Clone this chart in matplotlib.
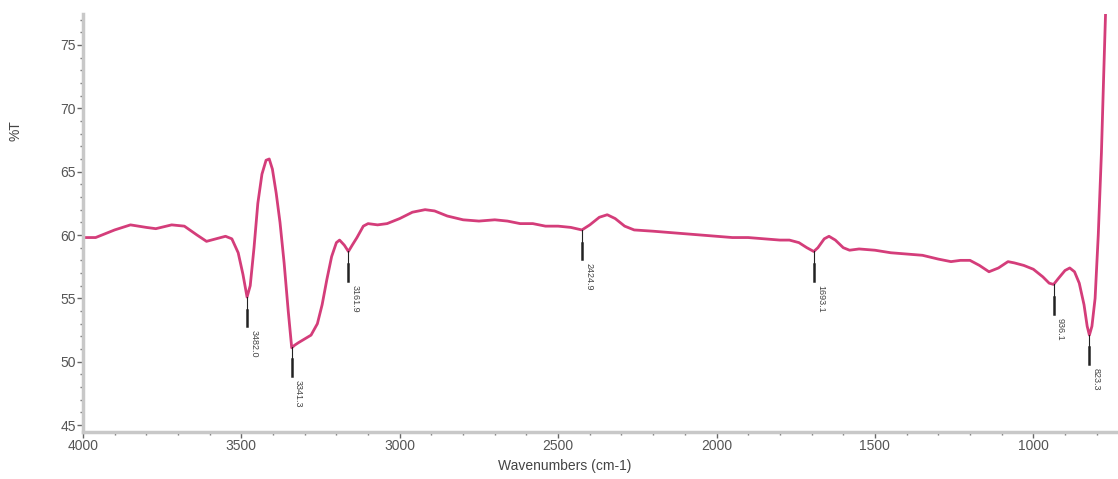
import numpy as np
import matplotlib
matplotlib.use("Agg")
import matplotlib.pyplot as plt
from matplotlib.ticker import MultipleLocator

plt.rcParams['font.family'] = ['Liberation Sans Narrow', 'Liberation Sans', 'DejaVu Sans']

# spectrum (wavenumber, %T)
wavenumber = [4000, 3960, 3900, 3850, 3800, 3770, 3720, 3680, 3640, 3610,
              3580, 3550, 3530, 3510, 3495, 3482, 3472, 3460, 3448, 3435,
              3422, 3412, 3402, 3390, 3378, 3365, 3352, 3341, 3332, 3320,
              3300, 3280, 3260, 3245, 3230, 3215, 3200, 3190, 3175, 3162,
              3150, 3135, 3115, 3100, 3070, 3040, 3000, 2960, 2920, 2890,
              2850, 2800, 2750, 2700, 2660, 2620, 2580, 2540, 2500, 2460,
              2425, 2400, 2370, 2345, 2320, 2290, 2260, 2200, 2150, 2100,
              2050, 2000, 1950, 1900, 1850, 1800, 1770, 1740, 1715, 1693,
              1680, 1660, 1645, 1625, 1600, 1580, 1550, 1500, 1450, 1400,
              1350, 1300, 1260, 1230, 1200, 1170, 1140, 1110, 1080, 1060,
              1030, 1000, 970, 950, 936, 920, 900, 885, 870, 855,
              840, 830, 823, 815, 805, 795, 785, 778, 772]
transmittance = [59.8, 59.8, 60.4, 60.8, 60.6, 60.5, 60.8, 60.7, 60.0, 59.5,
                 59.7, 59.9, 59.7, 58.6, 56.9, 55.1, 56.0, 59.0, 62.5, 64.8,
                 65.9, 66.0, 65.2, 63.3, 61.0, 57.8, 54.0, 51.1, 51.3, 51.5,
                 51.8, 52.1, 53.0, 54.5, 56.5, 58.3, 59.4, 59.6, 59.2, 58.7,
                 59.2, 59.8, 60.7, 60.9, 60.8, 60.9, 61.3, 61.8, 62.0, 61.9,
                 61.5, 61.2, 61.1, 61.2, 61.1, 60.9, 60.9, 60.7, 60.7, 60.6,
                 60.4, 60.8, 61.4, 61.6, 61.3, 60.7, 60.4, 60.3, 60.2, 60.1,
                 60.0, 59.9, 59.8, 59.8, 59.7, 59.6, 59.6, 59.4, 59.0, 58.7,
                 59.0, 59.7, 59.9, 59.6, 59.0, 58.8, 58.9, 58.8, 58.6, 58.5,
                 58.4, 58.1, 57.9, 58.0, 58.0, 57.6, 57.1, 57.4, 57.9, 57.8,
                 57.6, 57.3, 56.7, 56.2, 56.1, 56.6, 57.2, 57.4, 57.1, 56.2,
                 54.5, 52.8, 52.1, 52.8, 55.0, 60.0, 66.5, 72.5, 77.5]

peak_pos = [3482.0, 3341.3, 3161.9, 2424.9, 1693.1, 936.1, 823.3]
peak_text = ["3482.0", "3341.3", "3161.9", "2424.9", "1693.1", "936.1", "823.3"]

fig = plt.figure(figsize=(11.18, 4.79), dpi=100)
ax = fig.add_axes([0.0742, 0.098, 0.926, 0.873])

ax.plot(wavenumber, transmittance, color="#d43d7a", lw=2.0, solid_joinstyle="round")

# peak markers
wn_asc = np.array(wavenumber[::-1])
tr_asc = np.array(transmittance[::-1])
for p, t in zip(peak_pos, peak_text):
    y = np.interp(p, wn_asc, tr_asc)
    ax.plot([p, p], [y, y - 1.0], color="#222222", lw=0.8)
    ax.plot([p, p], [y - 1.0, y - 2.3], color="#222222", lw=1.8)
    ax.annotate(t, (p, y - 2.3), xytext=(5, -3), textcoords="offset points",
                rotation=270, fontsize=6.5, color="#444444", ha="center", va="top")

ax.set_xlim(4000, 732)
ax.set_ylim(44.45, 77.45)
ax.xaxis.set_major_locator(MultipleLocator(500))
ax.xaxis.set_minor_locator(MultipleLocator(100))
ax.yaxis.set_major_locator(MultipleLocator(5))
ax.yaxis.set_minor_locator(MultipleLocator(1))

for s in ["top", "right"]:
    ax.spines[s].set_visible(False)
for s in ["left", "bottom"]:
    ax.spines[s].set_color("#c8c8c8")
    ax.spines[s].set_linewidth(2.5)

ax.tick_params(which="major", length=4, width=1, color="#666666",
               labelsize=10, labelcolor="#555555", pad=1)
ax.tick_params(which="minor", length=2, width=1, color="#777777")

fig.text(0.5055, 0.027, "Wavenumbers (cm-1)", ha="center", va="center",
         fontsize=10, color="#444444")
fig.text(0.014, 0.728, "%T", rotation=90, ha="center", va="center",
         fontsize=10, color="#444444")

fig.savefig("out.png", dpi=100)
